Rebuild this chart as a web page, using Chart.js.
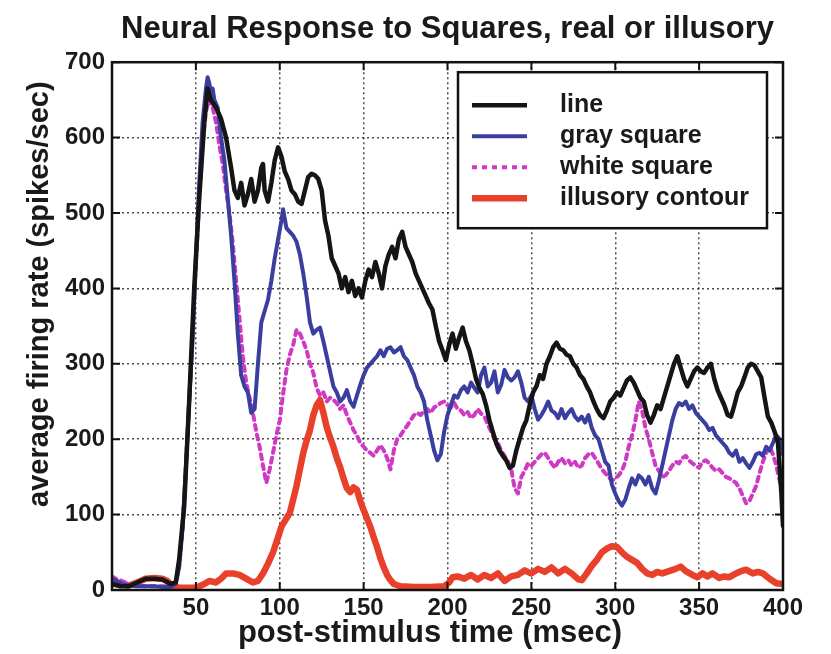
<!DOCTYPE html>
<html>
<head>
<meta charset="utf-8">
<script src="https://cdn.jsdelivr.net/npm/chart.js@4.4.1/dist/chart.umd.min.js"></script>
<style>
  html, body { margin: 0; padding: 0; background: #fff; }
  #wrap { width: 831px; height: 654px; }
</style>
</head>
<body>
<div id="wrap"><canvas id="psth" width="831" height="654"></canvas></div>
<script>
// post-stimulus time histograms, one trace per stimulus
const lineT = [0,5,10,15,20,25,30,35,38,40,43,46,49,52,55,57,59,62,65,68,71,73,75,77,79,81,83,85,87,89,90,91,93,95,97,99,101,103,105,107,109,111,113,115,117,119,121,123,125,127,129,131,133,135,137,139,141,143,145,147,149,151,153,155,157,159,161,163,165,167,169,171,173,175,177,179,181,183,185,187,189,191,193,195,197,199,201,203,205,207,209,211,213,215,217,219,221,223,225,227,229,231,233,235,237,239,241,243,245,247,249,251,253,255,257,259,261,263,265,267,269,271,273,275,277,279,281,283,285,287,289,291,293,295,297,299,301,303,305,307,309,311,313,315,317,319,321,323,325,327,329,331,333,335,337,339,341,343,345,347,349,351,353,355,357,359,361,363,365,367,369,371,373,375,377,379,381,383,385,387,389,391,393,395,397,399,400];
const lineV = [8,5,5,10,15,15,14,8,10,40,110,250,400,520,620,665,650,640,625,600,560,530,520,540,510,525,545,515,530,560,565,530,515,540,570,587,575,555,545,530,525,515,512,530,548,552,550,545,530,490,470,440,430,420,400,415,395,410,390,400,388,410,425,415,435,420,400,430,445,455,440,465,475,455,445,435,420,410,400,390,380,372,350,330,318,305,325,340,320,335,348,330,318,300,280,268,260,245,225,210,195,185,178,172,162,165,185,200,215,225,245,262,270,285,280,300,310,322,328,320,318,312,310,300,295,285,280,270,262,250,240,232,228,238,250,255,262,258,268,278,282,275,265,255,250,232,222,232,245,240,255,270,285,300,310,295,280,270,280,290,295,290,288,295,300,280,265,255,245,232,230,245,262,270,282,295,300,298,290,282,255,230,222,210,195,130,85];

const grayT = [0,3,6,10,15,20,25,30,35,38,40,42,44,46,48,50,52,54,56,57,58,59,60,61,63,65,67,69,71,73,75,77,79,81,83,85,87,89,91,93,95,97,99,101,102,104,106,108,110,112,114,116,118,120,122,124,126,128,130,132,134,136,138,140,142,144,146,148,150,152,154,156,158,160,162,164,166,168,170,172,174,176,178,180,182,184,186,188,190,192,194,196,198,200,202,204,206,208,210,212,214,216,218,220,222,224,226,228,230,232,234,236,238,240,242,244,246,248,250,252,254,256,258,260,262,264,266,268,270,272,274,276,278,280,282,284,286,288,290,292,294,296,298,300,302,304,306,308,310,312,314,316,318,320,322,324,326,328,330,332,334,336,338,340,342,344,346,348,350,352,354,356,358,360,362,364,366,368,370,372,374,376,378,380,382,384,386,388,390,392,394,396,398,400];
const grayV = [15,12,8,6,5,5,5,4,4,8,30,80,160,250,330,440,540,620,665,680,672,660,665,650,640,600,570,520,470,410,340,285,270,262,235,240,300,355,370,385,410,440,465,490,505,480,475,470,462,445,420,390,355,340,345,348,330,310,290,270,262,250,255,265,250,243,258,272,285,295,300,305,310,318,310,320,322,315,318,322,310,305,295,285,270,262,250,225,205,185,172,180,210,232,245,258,255,265,270,262,275,268,262,285,295,270,275,290,262,272,292,282,278,282,290,275,255,250,258,240,226,232,240,250,238,235,228,240,228,235,240,230,225,230,222,232,215,205,200,185,170,165,140,128,118,112,120,135,148,140,152,148,140,150,135,128,145,165,185,205,225,240,248,245,250,240,245,235,230,225,220,212,215,205,200,195,190,182,178,185,170,175,168,162,170,180,182,178,190,185,195,205,200,180,150];

const whiteT = [0,3,6,10,15,20,25,30,35,38,40,42,44,46,48,50,52,54,56,58,60,62,64,66,68,70,72,74,76,78,80,82,84,86,88,90,92,94,96,98,100,102,104,106,108,110,112,114,116,118,120,122,124,126,128,130,132,134,136,138,140,142,144,146,148,150,152,154,156,158,160,162,164,166,168,170,172,174,176,178,180,182,184,186,188,190,192,194,196,198,200,202,204,206,208,210,212,214,216,218,220,222,224,226,228,230,232,234,236,238,240,242,244,246,248,250,252,254,256,258,260,262,264,266,268,270,272,274,276,278,280,282,284,286,288,290,292,294,296,298,300,302,304,306,308,310,312,314,316,318,320,322,324,326,328,330,332,334,336,338,340,342,344,346,348,350,352,354,356,358,360,362,364,366,368,370,372,374,376,378,380,382,384,386,388,390,392,394,396,398,400];
const whiteV = [18,14,12,8,6,5,5,5,5,10,30,80,160,250,340,430,520,590,635,650,640,620,590,565,530,500,460,410,360,310,275,255,235,210,190,165,142,160,182,205,225,260,292,312,325,345,340,330,318,300,288,268,258,262,250,255,252,248,240,245,232,222,212,205,195,190,185,182,178,185,192,185,175,160,185,200,205,212,218,225,232,235,232,238,240,235,242,245,248,250,245,242,248,240,238,232,236,228,232,240,234,230,220,210,200,195,185,178,170,160,135,128,150,158,168,165,170,175,180,182,175,168,162,170,175,168,172,165,170,162,165,175,180,182,175,168,160,155,150,145,148,152,158,170,190,205,225,250,238,215,200,182,165,158,150,152,158,165,170,168,175,178,172,168,165,162,170,172,168,162,158,160,155,150,148,145,142,135,125,115,118,128,138,155,170,182,190,180,165,145,125];

const illusT = [0,5,10,15,20,25,30,33,36,40,45,50,55,58,62,65,68,72,76,80,84,87,90,93,96,99,101,104,106,108,110,112,114,116,118,120,122,124,126,128,130,132,134,136,138,140,142,144,146,148,150,152,154,156,158,160,162,164,166,168,172,180,190,198,201,203,206,210,214,218,222,226,230,234,238,242,246,250,254,258,262,266,270,274,278,280,283,286,289,292,295,298,301,304,307,310,313,316,319,322,325,328,332,336,339,342,346,349,352,355,358,362,365,368,372,375,378,382,385,388,392,396,400];
const illusV = [8,8,6,10,15,16,15,12,5,3,3,3,8,12,10,15,22,22,20,15,10,12,22,35,50,70,84,95,102,120,138,160,182,198,212,232,245,252,235,216,202,190,175,163,148,135,130,136,133,118,106,95,84,70,57,42,30,20,13,8,5,4,4,5,10,17,18,15,20,14,20,16,22,12,18,20,26,22,28,24,30,22,28,22,14,13,22,32,40,50,55,58,57,50,44,40,36,28,22,20,24,22,25,28,31,25,20,17,22,18,22,16,18,17,22,25,27,22,24,22,15,9,8];

const seriesNames = ['line', 'gray square', 'white square', 'illusory contour'];
const xTicks = [50, 100, 150, 200, 250, 300, 350, 400];
const yTicks = [0, 100, 200, 300, 400, 500, 600, 700];

const FONT = '"Liberation Sans", Arial, Helvetica, sans-serif';
const pts = (t, v) => t.map((x, i) => ({ x: x, y: v[i] }));

const traces = [
  { t: lineT, v: lineV, color: '#151515', width: 4.5, dash: [] },
  { t: grayT, v: grayV, color: '#3a3f9f', width: 4, dash: [] },
  { t: whiteT, v: whiteV, color: '#cf39c4', width: 4, dash: [5, 5] },
  { t: illusT, v: illusV, color: '#e8402b', width: 6.5, dash: [] }
];

// MATLAB-style frame: full box with ticks pointing inwards
const frame = {
  id: 'frame',
  afterDatasetsDraw(chart) {
    const { ctx, chartArea: a, scales } = chart;
    ctx.save();
    ctx.strokeStyle = '#111';
    ctx.lineWidth = 2;
    ctx.beginPath();
    [0, ...xTicks].forEach(v => {
      const px = scales.x.getPixelForValue(v);
      ctx.moveTo(px, a.bottom); ctx.lineTo(px, a.bottom - 8);
      ctx.moveTo(px, a.top); ctx.lineTo(px, a.top + 8);
    });
    yTicks.forEach(v => {
      const py = scales.y.getPixelForValue(v);
      ctx.moveTo(a.left, py); ctx.lineTo(a.left + 8, py);
      ctx.moveTo(a.right, py); ctx.lineTo(a.right - 8, py);
    });
    ctx.stroke();
    ctx.lineWidth = 2.5;
    ctx.strokeRect(a.left, a.top, a.right - a.left, a.bottom - a.top);
    ctx.restore();
  }
};

// boxed legend in the upper right corner of the axes
const boxLegend = {
  id: 'boxLegend',
  afterDraw(chart) {
    const { ctx, chartArea: a } = chart;
    const left = a.right - 325, top = a.top + 10, w = 309, h = 156;
    ctx.save();
    ctx.fillStyle = '#fff';
    ctx.fillRect(left, top, w, h);
    ctx.strokeStyle = '#111';
    ctx.lineWidth = 2.5;
    ctx.strokeRect(left, top, w, h);
    chart.data.datasets.forEach((ds, i) => {
      const y = top + 33 + i * 31;
      ctx.strokeStyle = ds.borderColor;
      ctx.lineWidth = ds.borderWidth;
      ctx.setLineDash(ds.borderDash || []);
      ctx.beginPath();
      ctx.moveTo(left + 14, y);
      ctx.lineTo(left + 69, y);
      ctx.stroke();
      ctx.setLineDash([]);
      ctx.fillStyle = '#1a1a1a';
      ctx.font = 'bold 25px ' + FONT;
      ctx.textBaseline = 'middle';
      ctx.fillText(ds.label, left + 102, y);
    });
    ctx.restore();
  }
};

// axis names
const axisNames = {
  id: 'axisNames',
  afterDraw(chart) {
    const { ctx, chartArea: a } = chart;
    ctx.save();
    ctx.fillStyle = '#1a1a1a';
    ctx.textAlign = 'center';
    ctx.textBaseline = 'middle';
    ctx.font = 'bold 31px ' + FONT;
    ctx.fillText('post-stimulus time (msec)', a.left + 318, 633);
    ctx.font = 'bold 29px ' + FONT;
    ctx.translate(40, a.top + 232);
    ctx.rotate(-Math.PI / 2);
    ctx.fillText('average firing rate (spikes/sec)', 0, 0);
    ctx.restore();
  }
};

const gridStyle = {
  color: 'rgba(0,0,0,0.7)',
  lineWidth: 1.5,
  drawTicks: false
};

new Chart(document.getElementById('psth'), {
  type: 'line',
  data: {
    datasets: traces.map((s, i) => ({
      label: seriesNames[i],
      data: pts(s.t, s.v),
      borderColor: s.color,
      borderWidth: s.width,
      borderDash: s.dash,
      borderJoinStyle: 'round',
      borderCapStyle: 'round',
      pointRadius: 0,
      tension: 0,
      fill: false
    }))
  },
  options: {
    responsive: false,
    animation: false,
    events: [],
    layout: { padding: { right: 48, left: 0, bottom: 0, top: 0 } },
    plugins: {
      legend: { display: false },
      tooltip: { enabled: false },
      title: {
        display: true,
        fullSize: false,
        text: 'Neural Response to Squares, real or illusory',
        color: '#1a1a1a',
        font: { family: FONT, size: 31, weight: 'bold', lineHeight: 1.2 },
        padding: { top: 11, bottom: 14 }
      }
    },
    scales: {
      x: {
        type: 'linear',
        min: 0,
        max: 400,
        afterBuildTicks: s => { s.ticks = [0, ...xTicks].map(v => ({ value: v })); },
        afterFit: s => { s.height = 64; },
        ticks: {
          callback: v => (v === 0 ? '' : v),
          color: '#1a1a1a',
          padding: 4,
          maxRotation: 0,
          font: { family: FONT, size: 24, weight: 'bold' }
        },
        grid: gridStyle,
        border: { display: false, dash: [2, 3] }
      },
      y: {
        type: 'linear',
        min: 0,
        max: 700,
        afterBuildTicks: s => { s.ticks = yTicks.map(v => ({ value: v })); },
        afterFit: s => { s.width = 112; },
        ticks: {
          color: '#1a1a1a',
          padding: 7,
          font: { family: FONT, size: 24, weight: 'bold' }
        },
        grid: gridStyle,
        border: { display: false, dash: [2, 3] }
      }
    }
  },
  plugins: [frame, boxLegend, axisNames]
});
</script>
</body>
</html>
